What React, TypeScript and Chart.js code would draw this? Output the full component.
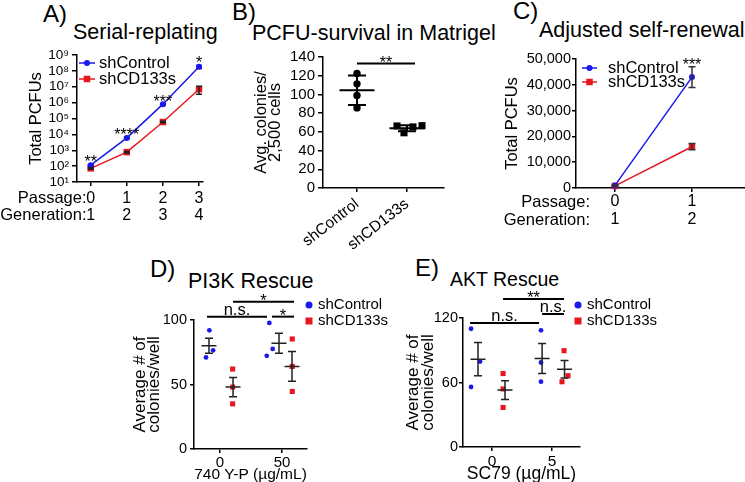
import React, { useEffect, useRef } from 'react';
import { Chart, registerables } from 'chart.js';

Chart.register(...registerables);

const FAM = '"Liberation Sans", Arial, Helvetica, sans-serif';
Chart.defaults.font.family = FAM;
Chart.defaults.color = '#000';

const BLUE = 'rgb(25,25,235)';
const RED = 'rgb(232,22,30)';
const INK = '#000';

// ---------- shared
const seriesNames = ['shControl', 'shCD133s'];
const rowHeaders = ['Passage:', 'Generation:'];

// ---------- Panel A: Serial-replating (log scale)
const aPassages = [0, 1, 2, 3];
const aGenerations = [1, 2, 3, 4];
const aControl = [115, 6000, 8e5, 1.8e8];
const aControlErr = [12, 600, 8e4, 4e7];
const aCD133 = [72, 760, 6e4, 7e6];
const aCD133Err = [8, 80, 6e3, 3.6e6];
const aStars = ['**', '****', '***', '*'];
const aYTickExps = [1, 2, 3, 4, 5, 6, 7, 8, 9];

// ---------- Panel B: PCFU-survival in Matrigel
const bCategories = ['shControl', 'shCD133s'];
const bControl = [122.4, 111.3, 98.9, 85.6];
const bControlJitter = [0, 0, 0, 0];
const bCD133 = [66.3, 65.3, 66.6, 59];
const bCD133Jitter = [-0.2, 0.12, 0.3, -0.06];
const bMean = [104.5, 63.9];
const bSD = [15.8, 3.2];
const bYTicks = [0, 20, 40, 60, 80, 100, 120, 140];
const bSig = [{ x1: 0, x2: 1.16, y: 133, label: '**' }];

// ---------- Panel C: Adjusted self-renewal
const cPassages = [0, 1];
const cGenerations = [1, 2];
const cControl = [1000, 43000];
const cControlErr = [150, 4000];
const cCD133 = [800, 16000];
const cCD133Err = [120, 1200];
const cStars = ['', '***'];
const cYTicks = [0, 10000, 20000, 30000, 40000, 50000];

// ---------- Panel D: PI3K Rescue (740 Y-P, µg/mL)
const dXTicks = [0, 50];
const dYTicks = [0, 50, 100];
const dControlY = [92, 76.5, 71, 97.7, 77.6, 72.2];
const dControlX = [-8.6, -5.6, -11.3, 39.8, 42.5, 37.7];
const dCD133Y = [62, 48, 35, 85.3, 64, 44.6];
const dCD133X = [10.2, 10.2, 10.2, 58.3, 58.3, 58.3];
const dGroupX = [-8.9, 10.5, 47.6, 58.1];
const dMean = [80, 48, 82, 64];
const dSEM = [5.8, 7.5, 7.7, 11.5];
const dSig = [
  { x1: -10.5, x2: 37.9, y: 102.6, label: 'n.s.' },
  { x1: 10.5, x2: 59.7, y: 114.2, label: '*' },
  { x1: 41.9, x2: 59.7, y: 102.6, label: '*' },
];

// ---------- Panel E: AKT Rescue (SC79, µg/mL)
const eXTicks = [0, 5];
const eYTicks = [0, 60, 120];
const eControlY = [110, 79.5, 55.8, 108.5, 78.6, 60.8];
const eControlX = [-1.75, -1, -1.75, 4.08, 4.08, 4.08];
const eCD133Y = [68.3, 54, 36.8, 89.6, 66.3, 60.7];
const eCD133X = [0.92, 0.92, 0.92, 6.0, 6.33, 5.83];
const eGroupX = [-1.17, 1.08, 4.17, 6.04];
const eMean = [81.7, 53, 82.3, 72.3];
const eSEM = [15.5, 8.7, 14, 8.2];
const eSig = [
  { x1: -1.83, x2: 3.92, y: 115.3, label: 'n.s.' },
  { x1: 0.92, x2: 6.0, y: 137.7, label: '**' },
  { x1: 4.17, x2: 6.0, y: 123.7, label: 'n.s.' },
];

const SUP = '⁰¹²³⁴⁵⁶⁷⁸⁹';

// ---------------- helpers
function leftAxis(o: any) {
  return {
    type: o.type || 'linear',
    position: 'left',
    min: o.min,
    max: o.max,
    afterFit: (s: any) => { s.width = o.width; },
    afterBuildTicks: (s: any) => { s.ticks = o.ticks.map((v: number) => ({ value: v })); },
    grid: { display: true, drawOnChartArea: false, drawTicks: true, tickLength: o.tickLen, color: INK, lineWidth: 1.5 },
    border: { display: true, color: INK, width: 1.5 },
    ticks: {
      color: INK, padding: o.pad, autoSkip: false, font: { size: o.font },
      callback: (v: number) => (o.fmt ? o.fmt(v) : String(v)),
    },
    title: {
      display: true, text: o.title, color: INK,
      font: { size: o.titleFont, lineHeight: o.titleLH },
      padding: { top: o.titlePad, bottom: 0 },
    },
  };
}

function bottomAxis(o: any) {
  return {
    type: 'linear',
    position: 'bottom',
    min: o.min,
    max: o.max,
    afterFit: (s: any) => { s.height = o.height; },
    afterBuildTicks: (s: any) => { s.ticks = o.ticks.map((v: number) => ({ value: v })); },
    grid: { display: true, drawOnChartArea: false, drawTicks: true, tickLength: o.tickLen, color: INK, lineWidth: 1.5 },
    border: { display: true, color: INK, width: 1.5 },
    ticks: {
      color: INK, padding: o.pad, autoSkip: false,
      font: { size: o.font, lineHeight: o.lh || 1.2 },
      minRotation: o.rot || 0, maxRotation: o.rot || 0,
      labelOffset: o.labelOffset || 0,
      callback: (_v: number, i: number) => o.labels(i),
    },
    title: o.title
      ? { display: true, text: o.title, color: INK, font: { size: o.titleFont, lineHeight: 1.2 }, padding: { top: 0, bottom: o.titlePad } }
      : { display: false },
  };
}

function mark(ctx: any, style: string, cx: number, cy: number, size: number, color: string) {
  ctx.fillStyle = color;
  if (style === 'rect') ctx.fillRect(cx - size / 2, cy - size / 2, size, size);
  else { ctx.beginPath(); ctx.arc(cx, cy, size / 2, 0, Math.PI * 2); ctx.fill(); }
}

function annot(spec: any) {
  return {
    id: 'annot',
    afterDatasetsDraw(chart: any) {
      const { ctx } = chart;
      const x = chart.scales.x, y = chart.scales.y;
      ctx.save();
      (spec.errs || []).forEach((e: any) => {
        const ds = chart.data.datasets[e.ds];
        ctx.strokeStyle = e.color; ctx.lineWidth = e.width;
        ds.data.forEach((p: any, j: number) => {
          const err = e.err[j];
          if (!err) return;
          const px = x.getPixelForValue(p.x);
          const top = y.getPixelForValue(p.y + err);
          const bot = y.getPixelForValue(p.y - err);
          ctx.beginPath();
          ctx.moveTo(px, top); ctx.lineTo(px, bot);
          ctx.moveTo(px - e.cap, top); ctx.lineTo(px + e.cap, top);
          ctx.moveTo(px - e.cap, bot); ctx.lineTo(px + e.cap, bot);
          ctx.stroke();
        });
      });
      const g = spec.groups;
      if (g) {
        ctx.strokeStyle = g.color; ctx.lineWidth = g.width;
        g.x.forEach((gx: number, k: number) => {
          const px = x.getPixelForValue(gx);
          const m = y.getPixelForValue(g.mean[k]);
          const hi = y.getPixelForValue(g.mean[k] + g.sd[k]);
          const lo = y.getPixelForValue(g.mean[k] - g.sd[k]);
          ctx.beginPath();
          ctx.moveTo(px - g.half, m); ctx.lineTo(px + g.half, m);
          ctx.moveTo(px, hi); ctx.lineTo(px, lo);
          ctx.moveTo(px - g.cap, hi); ctx.lineTo(px + g.cap, hi);
          ctx.moveTo(px - g.cap, lo); ctx.lineTo(px + g.cap, lo);
          ctx.stroke();
        });
      }
      ctx.restore();
    },
    afterDraw(chart: any) {
      const { ctx, chartArea: ca } = chart;
      const x = chart.scales.x, y = chart.scales.y;
      ctx.save();
      ctx.fillStyle = INK;
      if (spec.stars) {
        const s = spec.stars;
        const ds = chart.data.datasets[s.ds];
        ctx.font = s.font; ctx.textAlign = 'center'; ctx.textBaseline = 'alphabetic';
        ds.data.forEach((p: any, j: number) => {
          if (!s.labels[j]) return;
          const px = x.getPixelForValue(p.x);
          const py = y.getPixelForValue(p.y + (s.err[j] || 0));
          ctx.fillText(s.labels[j], px, py + s.dy);
        });
      }
      (spec.sig || []).forEach((b: any) => {
        const x1 = x.getPixelForValue(b.x1), x2 = x.getPixelForValue(b.x2);
        const py = y.getPixelForValue(b.y);
        ctx.strokeStyle = INK; ctx.lineWidth = 2;
        ctx.beginPath(); ctx.moveTo(x1, py); ctx.lineTo(x2, py); ctx.stroke();
        ctx.font = spec.sigFont; ctx.textAlign = 'center'; ctx.textBaseline = 'alphabetic';
        const star = b.label.indexOf('*') >= 0;
        ctx.fillText(b.label, (x1 + x2) / 2, py + (star ? 4 : -2));
      });
      if (spec.legend) {
        const L = spec.legend;
        const ox = (L.fromRight ? ca.right : ca.left) + L.x;
        const oy = ca.top + L.y;
        chart.data.datasets.forEach((ds: any, i: number) => {
          const yy = oy + i * L.rowH;
          const col = ds.pointBackgroundColor;
          let mx = ox;
          if (L.line) {
            ctx.strokeStyle = ds.borderColor; ctx.lineWidth = 1.5;
            ctx.beginPath(); ctx.moveTo(ox, yy); ctx.lineTo(ox + L.lineLen, yy); ctx.stroke();
            mx = ox + L.lineLen / 2;
          }
          mark(ctx, ds.pointStyle, mx, yy, L.sizes[i], col);
          ctx.fillStyle = INK; ctx.font = L.font; ctx.textAlign = 'left'; ctx.textBaseline = 'middle';
          ctx.fillText(ds.label, ox + L.textDx, yy);
        });
      }
      if (spec.headers) {
        const h = spec.headers;
        ctx.fillStyle = INK; ctx.font = h.font; ctx.textAlign = 'right'; ctx.textBaseline = 'middle';
        h.texts.forEach((t: string, i: number) => {
          ctx.fillText(t, ca.left + h.right, ca.bottom + h.first + i * h.lineH);
        });
      }
      ctx.restore();
    },
  };
}

function baseOptions(padding: any) {
  return {
    responsive: false,
    animation: false,
    events: [],
    layout: { padding, autoPadding: false },
    plugins: { legend: { display: false }, tooltip: { enabled: false }, title: { display: false } },
  };
}

function lineSet(label: string, xs: number[], ys: number[], color: string, style: string, r: number) {
  return {
    label,
    data: xs.map((v, i) => ({ x: v, y: ys[i] })),
    showLine: true,
    borderColor: color,
    backgroundColor: color,
    borderWidth: 1.5,
    pointStyle: style,
    pointRadius: r,
    pointBackgroundColor: color,
    pointBorderColor: color,
    pointBorderWidth: 0,
    clip: false,
  };
}

function dotSet(label: string, xs: number[], ys: number[], color: string, style: string, r: number) {
  return {
    label,
    data: xs.map((v, i) => ({ x: v, y: ys[i] })),
    showLine: false,
    borderColor: color,
    backgroundColor: color,
    pointStyle: style,
    pointRadius: r,
    pointBackgroundColor: color,
    pointBorderColor: color,
    pointBorderWidth: 0,
    clip: false,
  };
}

// ---------------- chart configs
function configA() {
  return {
    type: 'scatter',
    data: {
      datasets: [
        lineSet(seriesNames[0], aPassages, aControl, BLUE, 'circle', 3),
        lineSet(seriesNames[1], aPassages, aCD133, RED, 'rect', 4.6),
      ],
    },
    options: {
      ...baseOptions({ left: 0, top: 15, right: 12, bottom: 0 }),
      scales: {
        x: bottomAxis({
          min: -0.38, max: 3.11, ticks: aPassages, height: 48, tickLen: 4, pad: 4.5, font: 16, lh: 1.04,
          labels: (i: number) => [String(aPassages[i]), String(aGenerations[i])],
        }),
        y: leftAxis({
          type: 'logarithmic', min: 10, max: 1e9, ticks: aYTickExps.map((e) => Math.pow(10, e)),
          width: 77, tickLen: 5, pad: 3, font: 13.5,
          fmt: (v: number) => '10' + SUP[Math.round(Math.log10(v))],
          title: 'Total PCFUs', titleFont: 16.5, titleLH: 1.2, titlePad: 27,
        }),
      },
    },
    plugins: [
      annot({
        errs: [
          { ds: 0, err: aControlErr, color: BLUE, width: 1.5, cap: 3 },
          { ds: 1, err: aCD133Err, color: '#222', width: 1.5, cap: 3 },
        ],
        stars: { ds: 0, err: aControlErr, labels: aStars, font: `16px ${FAM}`, dy: 3 },
        legend: { x: 2, y: 8, rowH: 16, line: true, lineLen: 16, textDx: 20, font: `16.5px ${FAM}`, sizes: [6, 6.5] },
        headers: { texts: rowHeaders, right: 9.5, first: 16.8, lineH: 16.6, font: `16.5px ${FAM}` },
      }),
    ],
  };
}

function configB() {
  return {
    type: 'scatter',
    data: {
      datasets: [
        dotSet(bCategories[0], bControl.map((_, i) => 0 + bControlJitter[i]), bControl, INK, 'circle', 3.7),
        dotSet(bCategories[1], bCD133.map((_, i) => 1 + bCD133Jitter[i]), bCD133, INK, 'rect', 5),
      ],
    },
    options: {
      ...baseOptions({ left: 0, top: 10, right: 11, bottom: 0 }),
      scales: {
        x: bottomAxis({
          min: -0.68, max: 1.74, ticks: [0, 1], height: 72, tickLen: 4, pad: 3, font: 15.5, rot: 38,
          labels: (i: number) => bCategories[i],
        }),
        y: leftAxis({
          min: 0, max: 140, ticks: bYTicks, width: 93, tickLen: 5, pad: 3, font: 15,
          title: ['Avg. colonies/', '2,500 cells'], titleFont: 16.5, titleLH: 0.82, titlePad: 25,
        }),
      },
    },
    plugins: [
      annot({
        groups: { x: [0, 1], mean: bMean, sd: bSD, half: 17.5, cap: 9, width: 2, color: INK },
        sig: bSig, sigFont: `16px ${FAM}`,
      }),
    ],
  };
}

function configC() {
  return {
    type: 'scatter',
    data: {
      datasets: [
        lineSet(seriesNames[0], cPassages, cControl, BLUE, 'circle', 3),
        lineSet(seriesNames[1], cPassages, cCD133, RED, 'rect', 4.6),
      ],
    },
    options: {
      ...baseOptions({ left: 0, top: 14, right: 0, bottom: 0 }),
      scales: {
        x: bottomAxis({
          min: -0.506, max: 1.883, ticks: cPassages, height: 47, tickLen: 4, pad: 1, font: 16, lh: 1.125,
          labels: (i: number) => [String(cPassages[i]), String(cGenerations[i])],
        }),
        y: leftAxis({
          min: 0, max: 50000, ticks: cYTicks, width: 86, tickLen: 4, pad: 1, font: 14.5,
          fmt: (v: number) => v.toLocaleString('en-US'),
          title: 'Total PCFUs', titleFont: 16.5, titleLH: 1.2, titlePad: 13,
        }),
      },
    },
    plugins: [
      annot({
        errs: [
          { ds: 0, err: cControlErr, color: '#333', width: 1.5, cap: 3.5 },
          { ds: 1, err: cCD133Err, color: '#333', width: 1.5, cap: 3.5 },
        ],
        stars: { ds: 0, err: cControlErr, labels: cStars, font: `16px ${FAM}`, dy: 3 },
        legend: { x: 6, y: 9, rowH: 14, line: true, lineLen: 15, textDx: 26, font: `16.5px ${FAM}`, sizes: [6, 6.5] },
        headers: { texts: rowHeaders, right: 14, first: 14, lineH: 18, font: `16.5px ${FAM}` },
      }),
    ],
  };
}

function configD() {
  return {
    type: 'scatter',
    data: {
      datasets: [
        dotSet(seriesNames[0], dControlX, dControlY, BLUE, 'circle', 2.4),
        dotSet(seriesNames[1], dCD133X, dCD133Y, RED, 'rect', 3.6),
      ],
    },
    options: {
      ...baseOptions({ left: 0, top: 30, right: 93, bottom: 0 }),
      scales: {
        x: bottomAxis({
          min: -21, max: 70.2, ticks: dXTicks, height: 41, tickLen: 4, pad: 2, font: 15, lh: 1,
          labels: (i: number) => String(dXTicks[i]),
          title: '740 Y-P (µg/mL)', titleFont: 15.5, titlePad: 5.7,
        }),
        y: leftAxis({
          min: 0, max: 100, ticks: dYTicks, width: 74, tickLen: 4, pad: 3, font: 14.5,
          title: ['Average # of', 'colonies/well'], titleFont: 17, titleLH: 0.824, titlePad: 13,
        }),
      },
    },
    plugins: [
      annot({
        groups: { x: dGroupX, mean: dMean, sd: dSEM, half: 7.5, cap: 4, width: 1.5, color: '#222' },
        sig: dSig, sigFont: `16.5px ${FAM}`,
        legend: { fromRight: true, x: 2, y: -15, rowH: 16, line: false, textDx: 9, font: `15px ${FAM}`, sizes: [7, 7] },
      }),
    ],
  };
}

function configE() {
  return {
    type: 'scatter',
    data: {
      datasets: [
        dotSet(seriesNames[0], eControlX, eControlY, BLUE, 'circle', 2.4),
        dotSet(seriesNames[1], eCD133X, eCD133Y, RED, 'rect', 3.6),
      ],
    },
    options: {
      ...baseOptions({ left: 0, top: 28, right: 165, bottom: 0 }),
      scales: {
        x: bottomAxis({
          min: -2.42, max: 7.33, ticks: eXTicks, height: 43, tickLen: 4, pad: 3, font: 15.5, lh: 1,
          labels: (i: number) => String(eXTicks[i]),
          title: 'SC79 (µg/mL)', titleFont: 17.5, titlePad: 5.5,
        }),
        y: leftAxis({
          min: 0, max: 120, ticks: eYTicks, width: 78, tickLen: 4, pad: 1, font: 14.5,
          title: ['Average # of', 'colonies/well'], titleFont: 17, titleLH: 0.882, titlePad: 20.5,
        }),
      },
    },
    plugins: [
      annot({
        groups: { x: eGroupX, mean: eMean, sd: eSEM, half: 7.5, cap: 4, width: 1.5, color: '#222' },
        sig: eSig, sigFont: `16.5px ${FAM}`,
        legend: { fromRight: true, x: -2, y: -13, rowH: 16, line: false, textDx: 9, font: `15px ${FAM}`, sizes: [7, 7] },
      }),
    ],
  };
}

function ChartBox({ left, top, width, height, make }: any) {
  const ref = useRef<HTMLCanvasElement>(null);
  useEffect(() => {
    const chart = new Chart(ref.current as HTMLCanvasElement, make());
    return () => chart.destroy();
  }, []);
  return (
    <div style={{ position: 'absolute', left, top, width, height }}>
      <canvas ref={ref} width={width} height={height} style={{ display: 'block', width, height }} />
    </div>
  );
}

function Label({ text, left, cy, size }: any) {
  return (
    <div style={{ position: 'absolute', left, top: cy - 0.49 * size, fontSize: size, lineHeight: `${size}px`, whiteSpace: 'nowrap', color: '#000' }}>
      {text}
    </div>
  );
}

export default function App() {
  return (
    <div style={{ position: 'fixed', left: 0, top: 0, width: 745, height: 482, overflow: 'hidden', background: '#fff', fontFamily: FAM }}>
      <Label text="A)" left={43} cy={13.5} size={24} />
      <Label text="Serial-replating" left={73} cy={32.5} size={21.5} />
      <Label text="B)" left={232} cy={12} size={24} />
      <Label text="PCFU-survival in Matrigel" left={252} cy={33.5} size={21.5} />
      <Label text="C)" left={513} cy={10.5} size={24} />
      <Label text="Adjusted self-renewal" left={539} cy={30.8} size={21.5} />
      <Label text="D)" left={150} cy={269} size={24} />
      <Label text="PI3K Rescue" left={188} cy={282} size={21.5} />
      <Label text="E)" left={415} cy={267.5} size={24} />
      <Label text="AKT Rescue" left={450} cy={279.5} size={19.5} />
      <ChartBox left={0} top={40} width={215} height={190} make={configA} />
      <ChartBox left={230} top={45} width={225} height={215} make={configB} />
      <ChartBox left={490} top={45} width={270} height={190} make={configC} />
      <ChartBox left={120} top={290} width={280} height={200} make={configD} />
      <ChartBox left={385} top={290} width={360} height={200} make={configE} />
    </div>
  );
}
